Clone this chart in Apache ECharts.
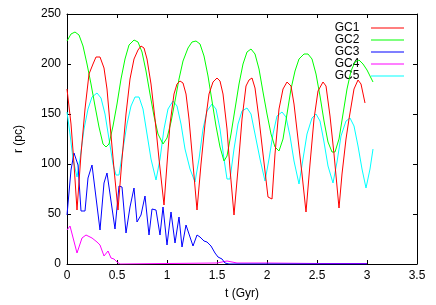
<!DOCTYPE html>
<html>
<head>
<meta charset="utf-8">
<script src="https://cdn.jsdelivr.net/npm/echarts@6/dist/echarts.min.js"></script>
<style>
html,body{margin:0;padding:0;background:#fff;}
#chart{width:436px;height:305px;}
</style>
</head>
<body>
<div id="chart"></div>
<script>
// ---- data ----
const seriesNames = ["GC1", "GC2", "GC3", "GC4", "GC5"];
const xTicks = [0, 0.5, 1, 1.5, 2, 2.5, 3, 3.5];
const yTicks = [0, 50, 100, 150, 200, 250];

const gc1T = [0,0.04,0.07,0.10,0.14,0.18,0.22,0.26,0.29,0.33,0.37,0.40,0.43,0.47,0.51,0.55,0.59,0.63,0.67,0.71,0.74,0.77,0.80,0.84,0.88,0.92,0.97,1.00,1.03,1.07,1.10,1.13,1.16,1.19,1.22,1.26,1.30,1.34,1.38,1.42,1.46,1.50,1.53,1.56,1.60,1.63,1.67,1.71,1.75,1.79,1.82,1.85,1.88,1.92,1.96,2.01,2.05,2.08,2.12,2.16,2.20,2.24,2.27,2.31,2.35,2.39,2.43,2.47,2.51,2.56,2.59,2.63,2.67,2.72,2.75,2.79,2.82,2.87,2.91,2.94,2.98];
const gc1R = [175,140,100,54,110,155,190,200,207,207,196,175,140,95,54,105,150,185,205,214,218,216,205,180,145,105,59,100,140,170,180,183,181,170,145,100,54,100,140,170,182,186,183,170,135,95,49,95,145,178,184,186,176,145,110,67,65,110,155,175,182,178,160,125,90,52,100,145,173,182,178,148,110,56,90,125,145,175,184,180,161];

const gc2T = [0,0.04,0.08,0.12,0.16,0.20,0.24,0.28,0.32,0.36,0.39,0.42,0.46,0.50,0.54,0.58,0.62,0.67,0.71,0.75,0.79,0.83,0.87,0.91,0.96,1.00,1.04,1.08,1.12,1.16,1.21,1.25,1.29,1.33,1.37,1.41,1.45,1.49,1.53,1.57,1.60,1.64,1.68,1.72,1.76,1.80,1.84,1.88,1.92,1.96,2.00,2.04,2.08,2.12,2.16,2.20,2.24,2.28,2.32,2.37,2.41,2.45,2.49,2.53,2.57,2.61,2.65,2.68,2.72,2.76,2.80,2.84,2.88,2.92,2.96,3.00,3.03,3.06];
const gc2R = [223,230,232,229,218,200,180,158,137,120,117,120,138,160,185,205,219,224,222,212,193,170,148,130,120,126,142,163,185,203,216,222,223,220,208,188,163,138,117,103,108,130,155,180,200,212,215,210,195,172,150,130,117,113,125,150,175,193,205,210,210,205,190,168,143,122,112,112,125,150,175,193,202,204,200,194,188,182];

const gc3T = [0,0.04,0.07,0.11,0.14,0.18,0.21,0.25,0.33,0.37,0.40,0.48,0.52,0.55,0.59,0.63,0.67,0.70,0.74,0.78,0.82,0.85,0.89,0.93,0.96,1.00,1.04,1.08,1.12,1.15,1.19,1.26,1.30,1.33,1.37,1.40,1.44,1.48,1.51,1.55,1.58,1.62,2.0,2.5,3.0];
const gc3R = [49,94,111,99,53,53,86,99,34,81,91,35,78,77,31,57,76,42,49,68,29,55,54,29,57,19,52,21,47,17,39,18,29,27,23,22,18,11,7,5,1,0,0,0,0];

const gc4T = [0,0.03,0.10,0.15,0.19,0.25,0.30,0.33,0.37,0.41,0.44,0.47,0.50,0.53,1.0,1.5,1.6,1.7,2.0,2.5,3.0];
const gc4R = [34,38,11,26,29,26,22,19,8,13,6,5,2,0,0.5,1,3,1,1,0.5,0.5];

const gc5T = [0,0.03,0.06,0.10,0.13,0.17,0.21,0.25,0.30,0.34,0.38,0.42,0.46,0.49,0.52,0.56,0.60,0.64,0.68,0.72,0.76,0.80,0.84,0.89,0.93,0.97,1.01,1.06,1.10,1.14,1.18,1.23,1.28,1.32,1.36,1.40,1.45,1.49,1.53,1.57,1.60,1.63,1.67,1.71,1.75,1.80,1.84,1.88,1.93,1.98,2.02,2.06,2.10,2.15,2.19,2.23,2.27,2.32,2.36,2.40,2.45,2.49,2.53,2.57,2.61,2.66,2.70,2.74,2.79,2.83,2.87,2.91,2.95,2.99,3.03,3.06];
const gc5R = [152,130,105,87,105,135,155,167,171,166,150,125,100,89,89,115,140,158,167,167,155,130,105,84,105,135,155,163,158,140,115,95,82,105,135,153,160,155,135,105,85,85,115,140,153,156,150,130,105,83,105,130,148,152,147,128,103,80,105,130,146,150,143,122,98,81,102,128,143,146,138,118,95,76,95,115];

const colors = ["#ff0000", "#00ff00", "#0000ff", "#ff00ff", "#00ffff"];
// ---------------------------------------

function zip(t, r) { return t.map((v, i) => [v, r[i]]); }
const allData = [zip(gc1T, gc1R), zip(gc2T, gc2R), zip(gc3T, gc3R), zip(gc4T, gc4R), zip(gc5T, gc5R)];

const font = "'Liberation Sans', Arial, sans-serif";
const chart = echarts.init(document.getElementById('chart'), null, {renderer: 'canvas'});

const xBase = {
  type: 'value', min: xTicks[0], max: xTicks[xTicks.length - 1], interval: 0.5,
  splitLine: {show: false},
  axisLine: {show: true, onZero: false, lineStyle: {color: '#000', width: 1}},
  axisTick: {show: true, inside: true, length: 4, lineStyle: {color: '#000'}},
};
const yBase = {
  type: 'value', min: yTicks[0], max: yTicks[yTicks.length - 1], interval: 50,
  splitLine: {show: false},
  axisLine: {show: true, onZero: false, lineStyle: {color: '#000', width: 1}},
  axisTick: {show: true, inside: true, length: 4, lineStyle: {color: '#000'}},
};

chart.setOption({
  animation: false,
  backgroundColor: '#fff',
  textStyle: {fontFamily: font},
  grid: {left: 67, right: 19, top: 14, bottom: 39, containLabel: false},
  legend: {
    orient: 'vertical', right: 27, top: 17, align: 'right',
    itemWidth: 33, itemHeight: 12, itemGap: 0,
    icon: 'path://M0,5.5L33,5.5L33,6.5L0,6.5Z',
    textStyle: {fontFamily: font, fontSize: 12, color: '#000', lineHeight: 12},
    formatter: function (n) { return n + '  '; },
    data: seriesNames
  },
  xAxis: [
    Object.assign({}, xBase, {
      position: 'bottom',
      axisLabel: {show: true, color: '#000', fontSize: 12, fontFamily: font, margin: 6},
      name: 't (Gyr)', nameLocation: 'middle', nameGap: 24,
      nameTextStyle: {color: '#000', fontSize: 12, fontFamily: font}
    }),
    Object.assign({}, xBase, {position: 'top', axisLabel: {show: false}})
  ],
  yAxis: [
    Object.assign({}, yBase, {
      position: 'left',
      axisLabel: {show: true, color: '#000', fontSize: 12, fontFamily: font, margin: 6},
      name: 'r (pc)', nameLocation: 'middle', nameGap: 42,
      nameTextStyle: {color: '#000', fontSize: 12, fontFamily: font}
    }),
    Object.assign({}, yBase, {position: 'right', axisLabel: {show: false}})
  ],
  series: seriesNames.map((n, i) => ({
    name: n, type: 'line', data: allData[i],
    xAxisIndex: 0, yAxisIndex: 0,
    showSymbol: false, symbol: 'none',
    lineStyle: {color: colors[i], width: 1},
    itemStyle: {color: colors[i]},
    z: 10 - i
  }))
});
</script>
</body>
</html>
